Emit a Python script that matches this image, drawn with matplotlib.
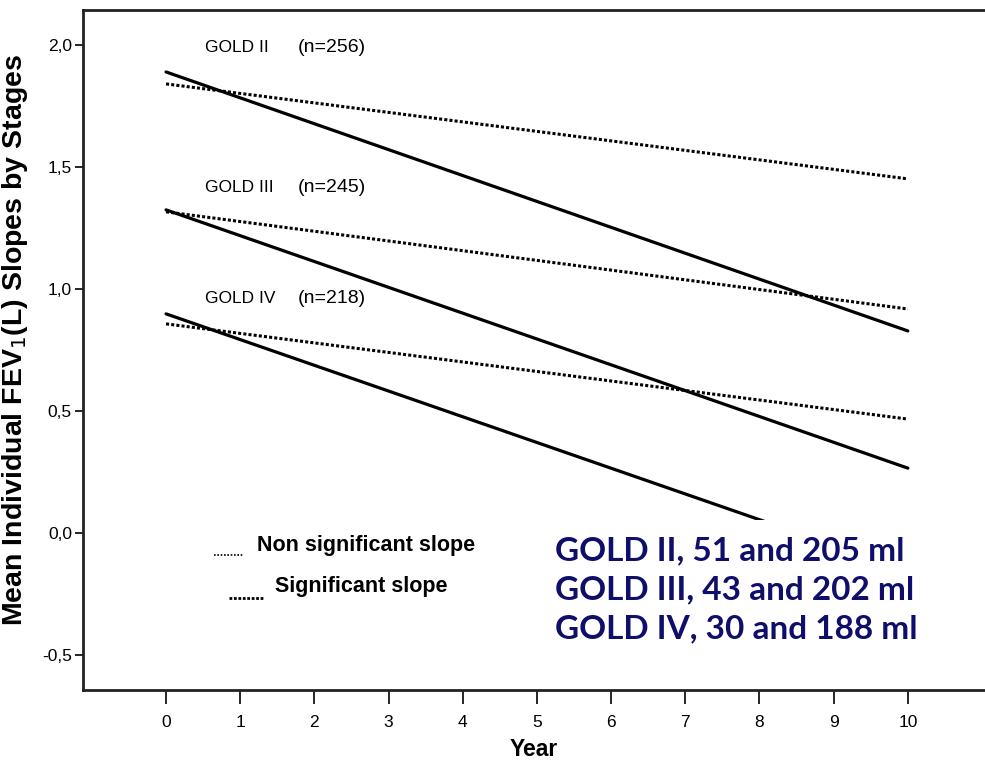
import matplotlib
matplotlib.use('agg')
import matplotlib.pyplot as plt
from matplotlib.lines import Line2D

# fitted FEV1 slopes per GOLD stage, value at year 0 and year 10
years = [0, 10]
gold2_sig = [1.889, 0.828]
gold2_ns = [1.840, 1.451]
gold3_sig = [1.324, 0.266]
gold3_ns = [1.316, 0.918]
gold4_sig = [0.898, -0.156]
gold4_ns = [0.857, 0.467]

stage_names = ['GOLD II', 'GOLD III', 'GOLD IV']
stage_n = ['(n=256)', '(n=245)', '(n=218)']
stage_label_y = [1.988, 1.414, 0.959]

summary_lines = ['GOLD II, 51 and 205 ml',
                 'GOLD III, 43 and 202 ml',
                 'GOLD IV, 30 and 188 ml']

xticks = list(range(0, 11))
yticks = [-0.5, 0.0, 0.5, 1.0, 1.5, 2.0]

arial = ['Liberation Sans', 'DejaVu Sans']
navy = '#0f0f6b'

fig = plt.figure(figsize=(9.85, 7.65), dpi=100)
ax = fig.add_axes([0.0843, 0.098, 0.9157, 0.889])

dotted = (0, (1.0, 0.7))
for sig, ns in [(gold2_sig, gold2_ns), (gold3_sig, gold3_ns), (gold4_sig, gold4_ns)]:
    ax.plot(years, ns, color='black', lw=2.2, linestyle=dotted, zorder=2)
    ax.plot(years, sig, color='black', lw=2.3, solid_capstyle='round', zorder=2)

for name, n, y in zip(stage_names, stage_n, stage_label_y):
    ax.text(0.53, y, name, fontsize=12.5, family=arial, va='center', ha='left')
    ax.text(1.78, y, n, fontsize=14, family=arial, va='center', ha='left')

# key for the two line styles
ax.add_line(Line2D([0.145, 0.178], [0.198, 0.198], transform=ax.transAxes,
                   color='black', lw=1.2, linestyle=(0, (1, 1))))
ax.text(0.193, 0.213, 'Non significant slope', transform=ax.transAxes,
        fontsize=15.5, fontweight='bold', va='center', ha='left', family=arial)
ax.add_line(Line2D([0.162, 0.199], [0.136, 0.136], transform=ax.transAxes,
                   color='black', lw=2.0, linestyle=(0, (1, 0.6))))
ax.text(0.213, 0.152, 'Significant slope', transform=ax.transAxes,
        fontsize=15.5, fontweight='bold', va='center', ha='left', family=arial)

ax.text(5.24, -0.234, '\n'.join(summary_lines), fontsize=24, fontweight='bold',
        family=['Lato', 'DejaVu Sans'], color=navy, va='center', ha='left',
        linespacing=1.42, zorder=5,
        bbox=dict(facecolor='white', edgecolor='none', pad=12))

ax.set_xlim(-1.119, 11.04)
ax.set_ylim(-0.643, 2.143)
ax.set_xticks(xticks)
ax.set_xticklabels([str(t) for t in xticks], family=arial, fontsize=12.5)
ax.set_yticks(yticks)
ax.set_yticklabels([('%.1f' % t).replace('.', ',') for t in yticks], family=arial, fontsize=12.5)
ax.tick_params(axis='x', length=10, width=1.2, pad=8)
ax.tick_params(axis='y', length=6, width=1.2, pad=2)

ax.spines['right'].set_visible(False)
for side in ['left', 'top', 'bottom']:
    ax.spines[side].set_linewidth(2.0)
    ax.spines[side].set_color('#222222')

ax.set_xlabel('Year', fontsize=16.5, fontweight='bold', family=arial, labelpad=6)
ax.set_ylabel('Mean Individual FEV$_1$(L) Slopes by Stages', fontsize=20.5,
              fontweight='bold', family=arial)
ax.yaxis.set_label_coords(-0.0588, 0.515)

plt.savefig('out.png', dpi=100)
